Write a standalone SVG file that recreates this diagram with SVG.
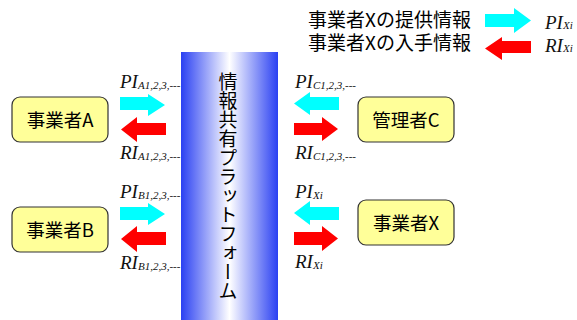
<svg xmlns="http://www.w3.org/2000/svg" width="577" height="320" viewBox="0 0 577 320">
<defs>
<linearGradient id="barGrad" x1="0" y1="0" x2="1" y2="0">
<stop offset="0" stop-color="#2a40f2"/>
<stop offset="0.5" stop-color="#ffffff"/>
<stop offset="1" stop-color="#2a40f2"/>
</linearGradient>
</defs>
<style>
.node rect{fill:#ffff99;stroke:#333;stroke-width:1.2}
.jp{font-family:"Noto Sans CJK JP","Noto Sans",sans-serif;fill:#000}
.nt{font-size:18.5px;text-anchor:middle}
.lab{font-family:"Liberation Serif",serif;font-style:italic;fill:#111}
.big{font-size:19px}
.sub{font-size:11px}
.pi{fill:#00ffff}
.ri{fill:#ff0000}
</style>
<rect width="577" height="320" fill="#fff"/>
<g id="platform">
<rect x="181" y="52" width="97" height="268" fill="url(#barGrad)"/>
<text class="jp" x="228" y="72" font-size="19" writing-mode="vertical-rl" style="text-orientation:upright">情報共有プラットフォーム</text>
</g>
<g id="legend">
<text class="jp" x="308" y="27" font-size="19">事業者Xの提供情報</text>
<text class="jp" x="308" y="50" font-size="19">事業者Xの入手情報</text>
<path class="pi" d="M485,14 H514 V8 L531,20.5 L514,33 V27 H485 Z"/>
<path class="ri" d="M531,41 H502 V37 L485,48.5 L502,60 V53 H531 Z"/>
<text class="lab" x="545" y="29"><tspan class="big">PI</tspan><tspan class="sub">Xi</tspan></text>
<text class="lab" x="545" y="52"><tspan class="big">RI</tspan><tspan class="sub">Xi</tspan></text>
</g>
<g id="nodeA" class="node">
<rect x="12" y="97" width="96" height="45" rx="8"/>
<text class="jp nt" x="60" y="126.5">事業者A</text>
</g>
<g id="nodeB" class="node">
<rect x="12" y="207" width="96" height="45" rx="8"/>
<text class="jp nt" x="60" y="236.5">事業者B</text>
</g>
<g id="nodeC" class="node">
<rect x="358" y="97" width="96" height="45" rx="8"/>
<text class="jp nt" x="406" y="126.5">管理者C</text>
</g>
<g id="nodeX" class="node">
<rect x="358" y="200" width="96" height="45" rx="8"/>
<text class="jp nt" x="406" y="229.5">事業者X</text>
</g>
<g id="connectors">
<path class="pi" d="M120,97 H148 V94 L165,105 L148,116 V110 H120 Z"/>
<path class="ri" d="M166,123 H137 V117 L121,129.5 L137,142 V135 H166 Z"/>
<path class="pi" d="M120,207 H148 V203 L165,214 L148,225 V220 H120 Z"/>
<path class="ri" d="M166,232 H137 V226 L121,239 L137,252 V245 H166 Z"/>
<path class="pi" d="M339,97 H310 V92 L294,103.5 L310,115 V110 H339 Z"/>
<path class="ri" d="M294,123 H322 V117 L338,129 L322,141 V135 H294 Z"/>
<path class="pi" d="M339,207 H310 V201 L294,213 L310,225 V220 H339 Z"/>
<path class="ri" d="M294,232 H322 V226 L338,238.5 L322,251 V245 H294 Z"/>
<text class="lab" x="120" y="88"><tspan class="big">PI</tspan><tspan class="sub" dy="1">A1,2,3,---</tspan></text>
<text class="lab" x="120" y="159"><tspan class="big">RI</tspan><tspan class="sub" dy="1">A1,2,3,---</tspan></text>
<text class="lab" x="120" y="198"><tspan class="big">PI</tspan><tspan class="sub" dy="1">B1,2,3,---</tspan></text>
<text class="lab" x="120" y="269"><tspan class="big">RI</tspan><tspan class="sub" dy="1">B1,2,3,---</tspan></text>
<text class="lab" x="295" y="88"><tspan class="big">PI</tspan><tspan class="sub" dy="1">C1,2,3,---</tspan></text>
<text class="lab" x="295" y="159"><tspan class="big">RI</tspan><tspan class="sub" dy="1">C1,2,3,---</tspan></text>
<text class="lab" x="295" y="198"><tspan class="big">PI</tspan><tspan class="sub" dy="1">Xi</tspan></text>
<text class="lab" x="295" y="268"><tspan class="big">RI</tspan><tspan class="sub" dy="1">Xi</tspan></text>
</g>
</svg>
